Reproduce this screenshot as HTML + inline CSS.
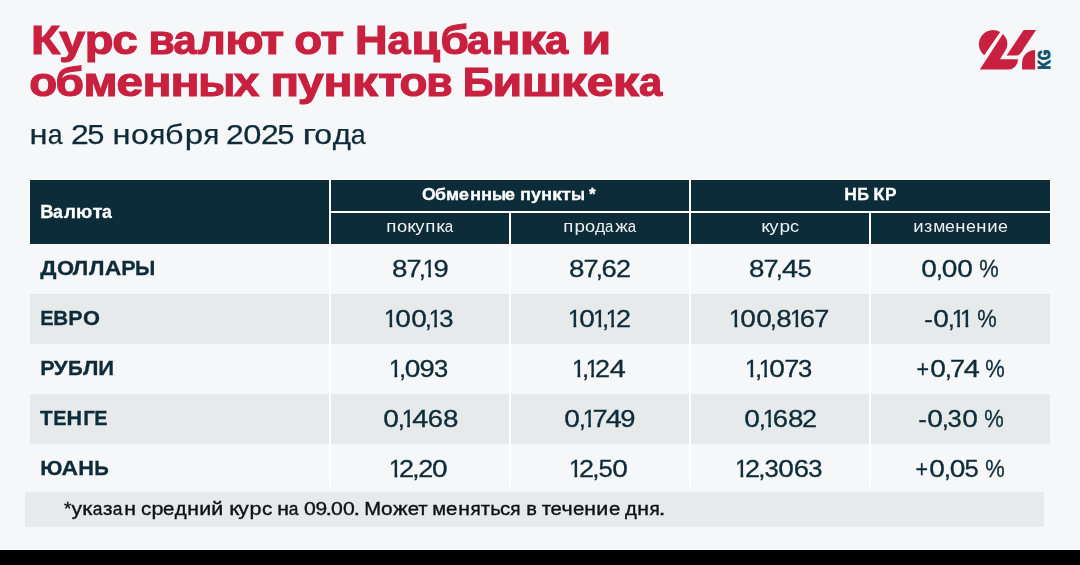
<!DOCTYPE html>
<html><head><meta charset="utf-8"><style>
html,body{margin:0;padding:0;}
body{width:1080px;height:565px;position:relative;overflow:hidden;background:#f6f7f9;font-family:"Liberation Sans",sans-serif;}
.b{position:absolute;}
.t{position:absolute;white-space:nowrap;transform-origin:0 0;will-change:transform;}
.t span{display:inline-block;white-space:pre;overflow:visible;transform-origin:0 0;}
</style></head><body>
<div class="b" style="left:29px;top:179px;width:1022px;height:65px;background:#ffffff"></div>
<div class="b" style="left:30px;top:180px;width:299px;height:64px;background:#0c2c39"></div>
<div class="b" style="left:331px;top:180px;width:358px;height:31px;background:#0c2c39"></div>
<div class="b" style="left:691px;top:180px;width:359px;height:31px;background:#0c2c39"></div>
<div class="b" style="left:331px;top:213px;width:178px;height:31px;background:#0c2c39"></div>
<div class="b" style="left:511px;top:213px;width:178px;height:31px;background:#0c2c39"></div>
<div class="b" style="left:691px;top:213px;width:178px;height:31px;background:#0c2c39"></div>
<div class="b" style="left:871px;top:213px;width:179px;height:31px;background:#0c2c39"></div>
<div class="b" style="left:30px;top:244px;width:1020px;height:50px;background:#f6f7f9"></div>
<div class="b" style="left:30px;top:294px;width:1020px;height:50px;background:#e7eaeb"></div>
<div class="b" style="left:30px;top:344px;width:1020px;height:50px;background:#f6f7f9"></div>
<div class="b" style="left:30px;top:394px;width:1020px;height:50px;background:#e7eaeb"></div>
<div class="b" style="left:30px;top:444px;width:1020px;height:50px;background:#f6f7f9"></div>
<div class="b" style="left:329px;top:244px;width:2px;height:243px;background:#ffffff"></div>
<div class="b" style="left:509px;top:244px;width:2px;height:243px;background:#ffffff"></div>
<div class="b" style="left:689px;top:244px;width:2px;height:243px;background:#ffffff"></div>
<div class="b" style="left:869px;top:244px;width:2px;height:243px;background:#ffffff"></div>
<div class="b" style="left:25px;top:492px;width:1019px;height:35px;background:#e7eaeb"></div>
<div class="b" style="left:0;top:550px;width:1080px;height:15px;background:#000000"></div>
<div class="t" style="left:30.80px;top:16.10px;font-weight:700;font-size:40px;line-height:48px;color:#c8203e;-webkit-text-stroke:1.1px #c8203e"><span style="width:30.000px;text-indent:0.01px;transform:scaleX(1.195)">К</span><span style="width:24.136px;text-indent:-1.43px;transform:scaleX(1.164)">у</span><span style="width:27.920px;text-indent:-0.24px;transform:scaleX(1.178)">р</span><span style="width:24.200px;text-indent:-0.61px;transform:scaleX(1.147)">с</span><span style="width:11.640px"> </span><span style="width:25.040px;text-indent:-0.59px;transform:scaleX(1.069)">в</span><span style="width:24.480px;text-indent:-0.59px;transform:scaleX(1.042)">а</span><span style="width:27.200px;text-indent:-0.16px;transform:scaleX(1.101)">л</span><span style="width:36.720px;text-indent:-0.52px;transform:scaleX(1.114)">ю</span><span style="width:21.520px;text-indent:-1.19px;transform:scaleX(1.203)">т</span><span style="width:11.640px"> </span><span style="width:26.480px;text-indent:-0.62px;transform:scaleX(1.141)">о</span><span style="width:21.520px;text-indent:-1.19px;transform:scaleX(1.203)">т</span><span style="width:11.640px"> </span><span style="width:32.640px;text-indent:0.02px;transform:scaleX(1.128)">Н</span><span style="width:24.480px;text-indent:-0.59px;transform:scaleX(1.042)">а</span><span style="width:28.480px;text-indent:-0.42px;transform:scaleX(1.159)">ц</span><span style="width:27.160px;text-indent:-0.42px;transform:scaleX(1.148)">б</span><span style="width:24.019px;text-indent:-1.03px;transform:scaleX(1.042)">а</span><span style="width:28.080px;text-indent:-0.37px;transform:scaleX(1.199)">н</span><span style="width:26.680px;text-indent:-0.22px;transform:scaleX(1.308)">к</span><span style="width:24.080px;text-indent:-0.97px;transform:scaleX(1.042)">а</span><span style="width:11.640px"> </span><span style="width:28.760px;text-indent:-0.34px;transform:scaleX(1.203)">и</span></div>
<div class="t" style="left:30.00px;top:57.80px;font-weight:700;font-size:40px;line-height:48px;color:#c8203e;-webkit-text-stroke:1.1px #c8203e"><span style="width:26.480px;text-indent:-0.66px;transform:scaleX(1.144)">о</span><span style="width:27.160px;text-indent:-0.46px;transform:scaleX(1.152)">б</span><span style="width:33.000px;text-indent:-0.47px;transform:scaleX(1.153)">м</span><span style="width:25.960px;text-indent:-0.53px;transform:scaleX(1.191)">е</span><span style="width:28.080px;text-indent:-0.41px;transform:scaleX(1.203)">н</span><span style="width:28.080px;text-indent:-0.41px;transform:scaleX(1.203)">н</span><span style="width:35.560px;text-indent:-0.69px;transform:scaleX(1.084)">ы</span><span style="width:24.960px;text-indent:-0.22px;transform:scaleX(1.146)">х</span><span style="width:11.640px"> </span><span style="width:27.560px;text-indent:-0.44px;transform:scaleX(1.184)">п</span><span style="width:25.600px;text-indent:-0.21px;transform:scaleX(1.168)">у</span><span style="width:28.080px;text-indent:-0.41px;transform:scaleX(1.203)">н</span><span style="width:26.680px;text-indent:-0.25px;transform:scaleX(1.312)">к</span><span style="width:22.221px;text-indent:-0.64px;transform:scaleX(1.207)">т</span><span style="width:25.643px;text-indent:-1.39px;transform:scaleX(1.144)">о</span><span style="width:25.040px;text-indent:-0.63px;transform:scaleX(1.073)">в</span><span style="width:11.640px"> </span><span style="width:29.640px;text-indent:-0.18px;transform:scaleX(1.064)">Б</span><span style="width:28.760px;text-indent:-0.38px;transform:scaleX(1.207)">и</span><span style="width:39.480px;text-indent:-0.28px;transform:scaleX(1.208)">ш</span><span style="width:26.680px;text-indent:-0.25px;transform:scaleX(1.312)">к</span><span style="width:25.360px;text-indent:-1.03px;transform:scaleX(1.191)">е</span><span style="width:26.680px;text-indent:-0.25px;transform:scaleX(1.312)">к</span><span style="width:24.080px;text-indent:-1.01px;transform:scaleX(1.045)">а</span></div>
<div class="t" style="left:29.00px;top:117.90px;font-weight:400;font-size:28px;line-height:34px;color:#0d2b38;-webkit-text-stroke:0.25px #0d2b38"><span style="width:19.068px;text-indent:0.44px;transform:scaleX(1.166)">н</span><span style="width:16.492px;text-indent:-0.21px;transform:scaleX(0.955)">а</span><span style="width:7.532px"> </span><span style="width:16.072px;text-indent:-0.98px;transform:scaleX(1.139)">2</span><span style="width:16.072px;text-indent:-0.69px;transform:scaleX(1.102)">5</span><span style="width:7.532px"> </span><span style="width:19.068px;text-indent:0.44px;transform:scaleX(1.166)">н</span><span style="width:17.948px;text-indent:0.02px;transform:scaleX(1.147)">о</span><span style="width:16.694px;text-indent:0.47px;transform:scaleX(1.040)">я</span><span style="width:18.536px;text-indent:-0.01px;transform:scaleX(1.155)">б</span><span style="width:19.264px;text-indent:0.60px;transform:scaleX(1.183)">р</span><span style="width:16.694px;text-indent:0.47px;transform:scaleX(1.040)">я</span><span style="width:7.532px"> </span><span style="width:16.072px;text-indent:-0.98px;transform:scaleX(1.139)">2</span><span style="width:18.654px;text-indent:0.21px;transform:scaleX(1.166)">0</span><span style="width:16.072px;text-indent:-0.98px;transform:scaleX(1.139)">2</span><span style="width:16.072px;text-indent:-0.69px;transform:scaleX(1.102)">5</span><span style="width:7.532px"> </span><span style="width:13.664px;text-indent:0.33px;transform:scaleX(1.345)">г</span><span style="width:17.295px;text-indent:-0.55px;transform:scaleX(1.147)">о</span><span style="width:18.474px;text-indent:-0.13px;transform:scaleX(1.115)">д</span><span style="width:16.492px;text-indent:-0.21px;transform:scaleX(0.955)">а</span></div>
<div class="t" style="left:40.00px;top:200.70px;font-weight:700;font-size:18px;line-height:22px;color:#ffffff;-webkit-text-stroke:0.3px #ffffff"><span style="width:13.410px;text-indent:0.30px;transform:scaleX(1.017)">В</span><span style="width:10.872px;text-indent:-0.04px;transform:scaleX(0.980)">а</span><span style="width:11.988px;text-indent:-0.03px;transform:scaleX(1.046)">л</span><span style="width:16.254px;text-indent:0.08px;transform:scaleX(1.057)">ю</span><span style="width:9.270px;text-indent:-0.52px;transform:scaleX(1.145)">т</span><span style="width:10.872px;text-indent:-0.04px;transform:scaleX(0.980)">а</span></div>
<div class="t" style="left:422.40px;top:185.00px;font-weight:700;font-size:16px;line-height:20px;color:#ffffff;-webkit-text-stroke:0.3px #ffffff"><span style="width:13.472px;text-indent:-0.10px;transform:scaleX(1.100)">О</span><span style="width:10.768px;text-indent:-0.05px;transform:scaleX(1.113)">б</span><span style="width:13.040px;text-indent:-0.02px;transform:scaleX(1.106)">м</span><span style="width:10.288px;text-indent:-0.11px;transform:scaleX(1.150)">е</span><span style="width:11.104px;text-indent:-0.00px;transform:scaleX(1.150)">н</span><span style="width:11.104px;text-indent:-0.00px;transform:scaleX(1.150)">н</span><span style="width:13.744px;text-indent:-0.12px;transform:scaleX(1.024)">ы</span><span style="width:10.288px;text-indent:-0.11px;transform:scaleX(1.150)">е</span><span style="width:4.528px"> </span><span style="width:10.960px;text-indent:-0.01px;transform:scaleX(1.136)">п</span><span style="width:9.824px;text-indent:-0.12px;transform:scaleX(1.124)">у</span><span style="width:11.104px;text-indent:-0.00px;transform:scaleX(1.150)">н</span><span style="width:10.272px;text-indent:0.04px;transform:scaleX(1.242)">к</span><span style="width:8.483px;text-indent:-0.31px;transform:scaleX(1.166)">т</span><span style="width:13.744px;text-indent:-0.12px;transform:scaleX(1.024)">ы</span><span style="width:4.528px"> </span><span style="width:6.944px;text-indent:0.12px;transform:scaleX(1.069)">*</span></div>
<div class="t" style="left:843.78px;top:184.90px;font-weight:700;font-size:16px;line-height:20px;color:#ffffff;-webkit-text-stroke:0.3px #ffffff"><span style="width:13.072px;text-indent:0.21px;transform:scaleX(1.092)">Н</span><span style="width:11.808px;text-indent:0.16px;transform:scaleX(1.024)">Б</span><span style="width:4.528px"> </span><span style="width:11.760px;text-indent:0.21px;transform:scaleX(1.147)">К</span><span style="width:11.264px;text-indent:-0.09px;transform:scaleX(1.078)">Р</span></div>
<div class="t" style="left:385.94px;top:217.00px;font-weight:400;font-size:16px;line-height:20px;color:#eef1f3"><span style="width:10.784px;text-indent:0.29px;transform:scaleX(1.168)">п</span><span style="width:10.176px;text-indent:0.01px;transform:scaleX(1.141)">о</span><span style="width:9.296px;text-indent:0.31px;transform:scaleX(1.222)">к</span><span style="width:8.608px;text-indent:-0.58px;transform:scaleX(1.147)">у</span><span style="width:10.784px;text-indent:0.29px;transform:scaleX(1.168)">п</span><span style="width:9.296px;text-indent:0.31px;transform:scaleX(1.222)">к</span><span style="width:9.168px;text-indent:-0.29px;transform:scaleX(0.940)">а</span></div>
<div class="t" style="left:562.99px;top:217.00px;font-weight:400;font-size:16px;line-height:20px;color:#eef1f3"><span style="width:10.784px;text-indent:0.31px;transform:scaleX(1.161)">п</span><span style="width:10.976px;text-indent:0.40px;transform:scaleX(1.171)">р</span><span style="width:10.176px;text-indent:0.03px;transform:scaleX(1.134)">о</span><span style="width:10.371px;text-indent:-0.12px;transform:scaleX(1.102)">д</span><span style="width:9.328px;text-indent:-0.09px;transform:scaleX(0.935)">а</span><span style="width:13.216px;text-indent:0.26px;transform:scaleX(1.177)">ж</span><span style="width:9.168px;text-indent:-0.26px;transform:scaleX(0.935)">а</span></div>
<div class="t" style="left:761.06px;top:217.00px;font-weight:400;font-size:16px;line-height:20px;color:#eef1f3"><span style="width:9.296px;text-indent:0.28px;transform:scaleX(1.233)">к</span><span style="width:8.608px;text-indent:-0.61px;transform:scaleX(1.157)">у</span><span style="width:10.976px;text-indent:0.33px;transform:scaleX(1.188)">р</span><span style="width:9.008px;text-indent:-0.05px;transform:scaleX(1.132)">с</span></div>
<div class="t" style="left:913.27px;top:217.00px;font-weight:400;font-size:16px;line-height:20px;color:#eef1f3"><span style="width:11.008px;text-indent:0.28px;transform:scaleX(1.158)">и</span><span style="width:8.544px;text-indent:-0.00px;transform:scaleX(1.131)">з</span><span style="width:12.640px;text-indent:0.26px;transform:scaleX(1.097)">м</span><span style="width:9.888px;text-indent:-0.02px;transform:scaleX(1.112)">е</span><span style="width:10.800px;text-indent:0.28px;transform:scaleX(1.148)">н</span><span style="width:9.888px;text-indent:-0.02px;transform:scaleX(1.112)">е</span><span style="width:10.800px;text-indent:0.28px;transform:scaleX(1.148)">н</span><span style="width:11.008px;text-indent:0.28px;transform:scaleX(1.158)">и</span><span style="width:9.888px;text-indent:-0.02px;transform:scaleX(1.112)">е</span></div>
<div class="t" style="left:40.00px;top:255.90px;font-weight:700;font-size:20px;line-height:24px;color:#0d2b38;-webkit-text-stroke:0.3px #0d2b38"><span style="width:16.620px;text-indent:0.21px;transform:scaleX(1.138)">Д</span><span style="width:16.840px;text-indent:-0.11px;transform:scaleX(1.099)">О</span><span style="width:15.580px;text-indent:-0.17px;transform:scaleX(1.102)">Л</span><span style="width:15.883px;text-indent:0.11px;transform:scaleX(1.102)">Л</span><span style="width:15.980px;text-indent:-0.23px;transform:scaleX(1.146)">А</span><span style="width:14.480px;text-indent:0.25px;transform:scaleX(1.079)">Р</span><span style="width:20.360px;text-indent:-0.04px;transform:scaleX(1.034)">Ы</span></div>
<div class="t" style="left:391.87px;top:253.80px;font-weight:400;font-size:24px;line-height:29px;color:#0d2b38;-webkit-text-stroke:0.3px #0d2b38"><span style="width:15.312px;text-indent:-0.05px;transform:scaleX(1.156)">8</span><span style="width:14.136px;text-indent:-0.55px;transform:scaleX(1.131)">7</span><span style="width:3.822px;text-indent:-2.14px;transform:scaleX(1.078)">,</span><span style="width:8.370px;text-indent:-2.39px;transform:scaleX(0.975);clip-path:polygon(-30px -5px,40px -5px,40px 20.91px,6.16px 20.91px,6.16px 40px,3.24px 40px,3.24px 20.91px,-30px 20.91px)">1</span><span style="width:14.616px;text-indent:-0.48px;transform:scaleX(1.140)">9</span></div>
<div class="t" style="left:569.37px;top:253.80px;font-weight:400;font-size:24px;line-height:29px;color:#0d2b38;-webkit-text-stroke:0.3px #0d2b38"><span style="width:15.312px;text-indent:-0.05px;transform:scaleX(1.156)">8</span><span style="width:14.136px;text-indent:-0.55px;transform:scaleX(1.131)">7</span><span style="width:3.822px;text-indent:-2.14px;transform:scaleX(1.078)">,</span><span style="width:14.349px;text-indent:-0.37px;transform:scaleX(1.141)">6</span><span style="width:13.632px;text-indent:-0.81px;transform:scaleX(1.124)">2</span></div>
<div class="t" style="left:748.82px;top:253.80px;font-weight:400;font-size:24px;line-height:29px;color:#0d2b38;-webkit-text-stroke:0.3px #0d2b38"><span style="width:15.312px;text-indent:-0.05px;transform:scaleX(1.156)">8</span><span style="width:14.136px;text-indent:-0.55px;transform:scaleX(1.131)">7</span><span style="width:3.822px;text-indent:-2.14px;transform:scaleX(1.078)">,</span><span style="width:15.561px;text-indent:0.00px;transform:scaleX(1.204)">4</span><span style="width:13.532px;text-indent:-0.52px;transform:scaleX(1.066)">5</span></div>
<div class="t" style="left:921.30px;top:253.80px;font-weight:400;font-size:24px;line-height:29px;color:#0d2b38;-webkit-text-stroke:0.3px #0d2b38"><span style="width:15.888px;text-indent:0.12px;transform:scaleX(1.169)">0</span><span style="width:4.821px;text-indent:-1.21px;transform:scaleX(1.078)">,</span><span style="width:15.621px;text-indent:-0.11px;transform:scaleX(1.169)">0</span><span style="width:15.888px;text-indent:0.12px;transform:scaleX(1.169)">0</span><span style="width:6.288px"> </span><span style="width:19.896px;text-indent:0.24px;transform:scaleX(0.912)">%</span></div>
<div class="t" style="left:40.00px;top:305.90px;font-weight:700;font-size:20px;line-height:24px;color:#0d2b38;-webkit-text-stroke:0.3px #0d2b38"><span style="width:13.460px;text-indent:0.25px;transform:scaleX(0.996)">Е</span><span style="width:14.900px;text-indent:0.26px;transform:scaleX(1.027)">В</span><span style="width:14.480px;text-indent:0.30px;transform:scaleX(1.071)">Р</span><span style="width:16.840px;text-indent:-0.06px;transform:scaleX(1.091)">О</span></div>
<div class="t" style="left:386.42px;top:303.80px;font-weight:400;font-size:24px;line-height:29px;color:#0d2b38;-webkit-text-stroke:0.3px #0d2b38"><span style="width:8.664px;text-indent:-2.09px;transform:scaleX(0.975);clip-path:polygon(-30px -5px,40px -5px,40px 20.91px,6.47px 20.91px,6.47px 40px,3.54px 40px,3.54px 20.91px,-30px 20.91px)">1</span><span style="width:15.888px;text-indent:0.12px;transform:scaleX(1.169)">0</span><span style="width:15.888px;text-indent:0.12px;transform:scaleX(1.169)">0</span><span style="width:4.821px;text-indent:-1.21px;transform:scaleX(1.078)">,</span><span style="width:8.370px;text-indent:-2.39px;transform:scaleX(0.975);clip-path:polygon(-30px -5px,40px -5px,40px 20.91px,6.16px 20.91px,6.16px 40px,3.24px 40px,3.24px 20.91px,-30px 20.91px)">1</span><span style="width:13.536px;text-indent:-0.70px;transform:scaleX(1.066)">3</span></div>
<div class="t" style="left:569.85px;top:303.80px;font-weight:400;font-size:24px;line-height:29px;color:#0d2b38;-webkit-text-stroke:0.3px #0d2b38"><span style="width:8.664px;text-indent:-2.09px;transform:scaleX(0.975);clip-path:polygon(-30px -5px,40px -5px,40px 20.91px,6.47px 20.91px,6.47px 40px,3.54px 40px,3.54px 20.91px,-30px 20.91px)">1</span><span style="width:15.888px;text-indent:0.12px;transform:scaleX(1.169)">0</span><span style="width:8.664px;text-indent:-2.09px;transform:scaleX(0.975);clip-path:polygon(-30px -5px,40px -5px,40px 20.91px,6.47px 20.91px,6.47px 40px,3.54px 40px,3.54px 20.91px,-30px 20.91px)">1</span><span style="width:5.088px;text-indent:-0.96px;transform:scaleX(1.078)">,</span><span style="width:8.370px;text-indent:-2.39px;transform:scaleX(0.975);clip-path:polygon(-30px -5px,40px -5px,40px 20.91px,6.16px 20.91px,6.16px 40px,3.24px 40px,3.24px 20.91px,-30px 20.91px)">1</span><span style="width:13.632px;text-indent:-0.81px;transform:scaleX(1.124)">2</span></div>
<div class="t" style="left:730.98px;top:303.80px;font-weight:400;font-size:24px;line-height:29px;color:#0d2b38;-webkit-text-stroke:0.3px #0d2b38"><span style="width:8.664px;text-indent:-2.09px;transform:scaleX(0.975);clip-path:polygon(-30px -5px,40px -5px,40px 20.91px,6.47px 20.91px,6.47px 40px,3.54px 40px,3.54px 20.91px,-30px 20.91px)">1</span><span style="width:15.888px;text-indent:0.12px;transform:scaleX(1.169)">0</span><span style="width:15.888px;text-indent:0.12px;transform:scaleX(1.169)">0</span><span style="width:4.821px;text-indent:-1.21px;transform:scaleX(1.078)">,</span><span style="width:15.552px;text-indent:0.15px;transform:scaleX(1.156)">8</span><span style="width:8.664px;text-indent:-2.09px;transform:scaleX(0.975);clip-path:polygon(-30px -5px,40px -5px,40px 20.91px,6.47px 20.91px,6.47px 40px,3.54px 40px,3.54px 20.91px,-30px 20.91px)">1</span><span style="width:14.616px;text-indent:-0.13px;transform:scaleX(1.141)">6</span><span style="width:13.950px;text-indent:-0.72px;transform:scaleX(1.131)">7</span></div>
<div class="t" style="left:923.86px;top:303.80px;font-weight:400;font-size:24px;line-height:29px;color:#0d2b38;-webkit-text-stroke:0.3px #0d2b38"><span style="width:9.168px;text-indent:0.27px;transform:scaleX(1.075)">-</span><span style="width:16.074px;text-indent:0.28px;transform:scaleX(1.169)">0</span><span style="width:4.821px;text-indent:-1.21px;transform:scaleX(1.078)">,</span><span style="width:8.370px;text-indent:-2.39px;transform:scaleX(0.975);clip-path:polygon(-30px -5px,40px -5px,40px 20.91px,6.16px 20.91px,6.16px 40px,3.24px 40px,3.24px 20.91px,-30px 20.91px)">1</span><span style="width:8.664px;text-indent:-2.09px;transform:scaleX(0.975);clip-path:polygon(-30px -5px,40px -5px,40px 20.91px,6.47px 20.91px,6.47px 40px,3.54px 40px,3.54px 20.91px,-30px 20.91px)">1</span><span style="width:6.288px"> </span><span style="width:19.896px;text-indent:0.24px;transform:scaleX(0.912)">%</span></div>
<div class="t" style="left:40.00px;top:355.90px;font-weight:700;font-size:20px;line-height:24px;color:#0d2b38;-webkit-text-stroke:0.3px #0d2b38"><span style="width:14.480px;text-indent:0.26px;transform:scaleX(1.077)">Р</span><span style="width:13.859px;text-indent:-0.34px;transform:scaleX(1.113)">У</span><span style="width:14.460px;text-indent:-0.08px;transform:scaleX(1.023)">Б</span><span style="width:15.644px;text-indent:-0.10px;transform:scaleX(1.099)">Л</span><span style="width:16.420px;text-indent:0.29px;transform:scaleX(1.099)">И</span></div>
<div class="t" style="left:391.36px;top:353.80px;font-weight:400;font-size:24px;line-height:29px;color:#0d2b38;-webkit-text-stroke:0.3px #0d2b38"><span style="width:8.664px;text-indent:-2.09px;transform:scaleX(0.975);clip-path:polygon(-30px -5px,40px -5px,40px 20.91px,6.47px 20.91px,6.47px 40px,3.54px 40px,3.54px 20.91px,-30px 20.91px)">1</span><span style="width:5.088px;text-indent:-0.96px;transform:scaleX(1.078)">,</span><span style="width:15.621px;text-indent:-0.11px;transform:scaleX(1.169)">0</span><span style="width:14.616px;text-indent:-0.48px;transform:scaleX(1.140)">9</span><span style="width:13.296px;text-indent:-0.93px;transform:scaleX(1.066)">3</span></div>
<div class="t" style="left:574.46px;top:353.80px;font-weight:400;font-size:24px;line-height:29px;color:#0d2b38;-webkit-text-stroke:0.3px #0d2b38"><span style="width:8.664px;text-indent:-2.09px;transform:scaleX(0.975);clip-path:polygon(-30px -5px,40px -5px,40px 20.91px,6.47px 20.91px,6.47px 40px,3.54px 40px,3.54px 20.91px,-30px 20.91px)">1</span><span style="width:5.088px;text-indent:-0.96px;transform:scaleX(1.078)">,</span><span style="width:8.370px;text-indent:-2.39px;transform:scaleX(0.975);clip-path:polygon(-30px -5px,40px -5px,40px 20.91px,6.16px 20.91px,6.16px 40px,3.24px 40px,3.24px 20.91px,-30px 20.91px)">1</span><span style="width:13.632px;text-indent:-0.81px;transform:scaleX(1.124)">2</span><span style="width:15.321px;text-indent:-0.20px;transform:scaleX(1.204)">4</span></div>
<div class="t" style="left:747.36px;top:353.80px;font-weight:400;font-size:24px;line-height:29px;color:#0d2b38;-webkit-text-stroke:0.3px #0d2b38"><span style="width:8.664px;text-indent:-2.09px;transform:scaleX(0.975);clip-path:polygon(-30px -5px,40px -5px,40px 20.91px,6.47px 20.91px,6.47px 40px,3.54px 40px,3.54px 20.91px,-30px 20.91px)">1</span><span style="width:5.088px;text-indent:-0.96px;transform:scaleX(1.078)">,</span><span style="width:8.370px;text-indent:-2.39px;transform:scaleX(0.975);clip-path:polygon(-30px -5px,40px -5px,40px 20.91px,6.16px 20.91px,6.16px 40px,3.24px 40px,3.24px 20.91px,-30px 20.91px)">1</span><span style="width:15.888px;text-indent:0.12px;transform:scaleX(1.169)">0</span><span style="width:13.950px;text-indent:-0.72px;transform:scaleX(1.131)">7</span><span style="width:13.323px;text-indent:-0.90px;transform:scaleX(1.066)">3</span></div>
<div class="t" style="left:915.99px;top:353.80px;font-weight:400;font-size:24px;line-height:29px;color:#0d2b38;-webkit-text-stroke:0.3px #0d2b38"><span style="width:13.800px;text-indent:0.70px;transform:scaleX(0.895)">+</span><span style="width:16.074px;text-indent:0.28px;transform:scaleX(1.169)">0</span><span style="width:4.821px;text-indent:-1.21px;transform:scaleX(1.078)">,</span><span style="width:13.842px;text-indent:-0.81px;transform:scaleX(1.131)">7</span><span style="width:14.304px;text-indent:-1.04px;transform:scaleX(1.204)">4</span><span style="width:6.288px"> </span><span style="width:19.896px;text-indent:0.24px;transform:scaleX(0.912)">%</span></div>
<div class="t" style="left:40.00px;top:405.90px;font-weight:700;font-size:20px;line-height:24px;color:#0d2b38;-webkit-text-stroke:0.3px #0d2b38"><span style="width:12.740px;text-indent:0.04px;transform:scaleX(1.034)">Т</span><span style="width:13.460px;text-indent:0.30px;transform:scaleX(0.989)">Е</span><span style="width:16.340px;text-indent:0.37px;transform:scaleX(1.077)">Н</span><span style="width:11.860px;text-indent:0.33px;transform:scaleX(1.031)">Г</span><span style="width:13.460px;text-indent:0.30px;transform:scaleX(0.989)">Е</span></div>
<div class="t" style="left:382.56px;top:403.80px;font-weight:400;font-size:24px;line-height:29px;color:#0d2b38;-webkit-text-stroke:0.3px #0d2b38"><span style="width:15.888px;text-indent:0.12px;transform:scaleX(1.169)">0</span><span style="width:4.821px;text-indent:-1.21px;transform:scaleX(1.078)">,</span><span style="width:8.370px;text-indent:-2.39px;transform:scaleX(0.975);clip-path:polygon(-30px -5px,40px -5px,40px 20.91px,6.16px 20.91px,6.16px 40px,3.24px 40px,3.24px 20.91px,-30px 20.91px)">1</span><span style="width:15.864px;text-indent:0.25px;transform:scaleX(1.204)">4</span><span style="width:14.616px;text-indent:-0.13px;transform:scaleX(1.141)">6</span><span style="width:15.312px;text-indent:-0.05px;transform:scaleX(1.156)">8</span></div>
<div class="t" style="left:564.03px;top:403.80px;font-weight:400;font-size:24px;line-height:29px;color:#0d2b38;-webkit-text-stroke:0.3px #0d2b38"><span style="width:15.888px;text-indent:0.12px;transform:scaleX(1.169)">0</span><span style="width:4.821px;text-indent:-1.21px;transform:scaleX(1.078)">,</span><span style="width:8.370px;text-indent:-2.39px;transform:scaleX(0.975);clip-path:polygon(-30px -5px,40px -5px,40px 20.91px,6.16px 20.91px,6.16px 40px,3.24px 40px,3.24px 20.91px,-30px 20.91px)">1</span><span style="width:14.136px;text-indent:-0.55px;transform:scaleX(1.131)">7</span><span style="width:14.304px;text-indent:-1.04px;transform:scaleX(1.204)">4</span><span style="width:14.430px;text-indent:-0.64px;transform:scaleX(1.140)">9</span></div>
<div class="t" style="left:743.68px;top:403.80px;font-weight:400;font-size:24px;line-height:29px;color:#0d2b38;-webkit-text-stroke:0.3px #0d2b38"><span style="width:15.888px;text-indent:0.12px;transform:scaleX(1.169)">0</span><span style="width:4.821px;text-indent:-1.21px;transform:scaleX(1.078)">,</span><span style="width:8.370px;text-indent:-2.39px;transform:scaleX(0.975);clip-path:polygon(-30px -5px,40px -5px,40px 20.91px,6.16px 20.91px,6.16px 40px,3.24px 40px,3.24px 20.91px,-30px 20.91px)">1</span><span style="width:14.616px;text-indent:-0.13px;transform:scaleX(1.141)">6</span><span style="width:15.312px;text-indent:-0.05px;transform:scaleX(1.156)">8</span><span style="width:13.632px;text-indent:-0.81px;transform:scaleX(1.124)">2</span></div>
<div class="t" style="left:917.54px;top:403.80px;font-weight:400;font-size:24px;line-height:29px;color:#0d2b38;-webkit-text-stroke:0.3px #0d2b38"><span style="width:9.168px;text-indent:0.27px;transform:scaleX(1.075)">-</span><span style="width:16.074px;text-indent:0.28px;transform:scaleX(1.169)">0</span><span style="width:4.821px;text-indent:-1.21px;transform:scaleX(1.078)">,</span><span style="width:13.776px;text-indent:-0.48px;transform:scaleX(1.066)">3</span><span style="width:15.888px;text-indent:0.12px;transform:scaleX(1.169)">0</span><span style="width:6.288px"> </span><span style="width:19.896px;text-indent:0.24px;transform:scaleX(0.912)">%</span></div>
<div class="t" style="left:40.00px;top:455.90px;font-weight:700;font-size:20px;line-height:24px;color:#0d2b38;-webkit-text-stroke:0.3px #0d2b38"><span style="width:22.280px;text-indent:0.26px;transform:scaleX(1.074)">Ю</span><span style="width:15.780px;text-indent:-0.39px;transform:scaleX(1.143)">А</span><span style="width:16.340px;text-indent:0.28px;transform:scaleX(1.089)">Н</span><span style="width:14.420px;text-indent:0.21px;transform:scaleX(1.010)">Ь</span></div>
<div class="t" style="left:391.33px;top:453.80px;font-weight:400;font-size:24px;line-height:29px;color:#0d2b38;-webkit-text-stroke:0.3px #0d2b38"><span style="width:8.664px;text-indent:-2.09px;transform:scaleX(0.975);clip-path:polygon(-30px -5px,40px -5px,40px 20.91px,6.47px 20.91px,6.47px 40px,3.54px 40px,3.54px 20.91px,-30px 20.91px)">1</span><span style="width:13.632px;text-indent:-0.81px;transform:scaleX(1.124)">2</span><span style="width:5.328px;text-indent:-0.74px;transform:scaleX(1.078)">,</span><span style="width:13.872px;text-indent:-0.60px;transform:scaleX(1.124)">2</span><span style="width:15.836px;text-indent:0.08px;transform:scaleX(1.169)">0</span></div>
<div class="t" style="left:571.45px;top:453.80px;font-weight:400;font-size:24px;line-height:29px;color:#0d2b38;-webkit-text-stroke:0.3px #0d2b38"><span style="width:8.664px;text-indent:-2.09px;transform:scaleX(0.975);clip-path:polygon(-30px -5px,40px -5px,40px 20.91px,6.47px 20.91px,6.47px 40px,3.54px 40px,3.54px 20.91px,-30px 20.91px)">1</span><span style="width:13.632px;text-indent:-0.81px;transform:scaleX(1.124)">2</span><span style="width:5.328px;text-indent:-0.74px;transform:scaleX(1.078)">,</span><span style="width:13.584px;text-indent:-0.47px;transform:scaleX(1.066)">5</span><span style="width:15.888px;text-indent:0.12px;transform:scaleX(1.169)">0</span></div>
<div class="t" style="left:737.28px;top:453.80px;font-weight:400;font-size:24px;line-height:29px;color:#0d2b38;-webkit-text-stroke:0.3px #0d2b38"><span style="width:8.664px;text-indent:-2.09px;transform:scaleX(0.975);clip-path:polygon(-30px -5px,40px -5px,40px 20.91px,6.47px 20.91px,6.47px 40px,3.54px 40px,3.54px 20.91px,-30px 20.91px)">1</span><span style="width:13.632px;text-indent:-0.81px;transform:scaleX(1.124)">2</span><span style="width:5.328px;text-indent:-0.74px;transform:scaleX(1.078)">,</span><span style="width:13.776px;text-indent:-0.48px;transform:scaleX(1.066)">3</span><span style="width:15.888px;text-indent:0.12px;transform:scaleX(1.169)">0</span><span style="width:14.616px;text-indent:-0.13px;transform:scaleX(1.141)">6</span><span style="width:13.536px;text-indent:-0.70px;transform:scaleX(1.066)">3</span></div>
<div class="t" style="left:915.46px;top:453.80px;font-weight:400;font-size:24px;line-height:29px;color:#0d2b38;-webkit-text-stroke:0.3px #0d2b38"><span style="width:13.800px;text-indent:0.70px;transform:scaleX(0.895)">+</span><span style="width:16.074px;text-indent:0.28px;transform:scaleX(1.169)">0</span><span style="width:4.821px;text-indent:-1.21px;transform:scaleX(1.078)">,</span><span style="width:15.621px;text-indent:-0.11px;transform:scaleX(1.169)">0</span><span style="width:13.584px;text-indent:-0.47px;transform:scaleX(1.066)">5</span><span style="width:6.288px"> </span><span style="width:19.896px;text-indent:0.24px;transform:scaleX(0.912)">%</span></div>
<div class="t" style="left:63.80px;top:498.00px;font-weight:400;font-size:18px;line-height:22px;color:#111111;-webkit-text-stroke:0.35px #111111"><span style="width:7.200px;text-indent:-0.07px;transform:scaleX(1.048)">*</span><span style="width:11.026px;text-indent:0.39px;transform:scaleX(1.164)">у</span><span style="width:10.764px;text-indent:0.27px;transform:scaleX(1.267)">к</span><span style="width:10.422px;text-indent:-0.37px;transform:scaleX(0.965)">а</span><span style="width:9.792px;text-indent:0.03px;transform:scaleX(1.158)">з</span><span style="width:10.602px;text-indent:-0.19px;transform:scaleX(0.965)">а</span><span style="width:12.258px;text-indent:0.23px;transform:scaleX(1.178)">н</span><span style="width:4.842px"> </span><span style="width:10.278px;text-indent:-0.06px;transform:scaleX(1.147)">с</span><span style="width:12.384px;text-indent:0.33px;transform:scaleX(1.195)">р</span><span style="width:11.304px;text-indent:-0.07px;transform:scaleX(1.130)">е</span><span style="width:11.788px;text-indent:-0.21px;transform:scaleX(1.126)">д</span><span style="width:12.258px;text-indent:0.23px;transform:scaleX(1.178)">н</span><span style="width:12.492px;text-indent:0.23px;transform:scaleX(1.188)">и</span><span style="width:12.492px;text-indent:0.23px;transform:scaleX(1.188)">й</span><span style="width:4.842px"> </span><span style="width:10.764px;text-indent:0.27px;transform:scaleX(1.267)">к</span><span style="width:9.918px;text-indent:-0.56px;transform:scaleX(1.164)">у</span><span style="width:12.384px;text-indent:0.33px;transform:scaleX(1.195)">р</span><span style="width:10.278px;text-indent:-0.06px;transform:scaleX(1.147)">с</span><span style="width:4.842px"> </span><span style="width:12.258px;text-indent:0.23px;transform:scaleX(1.178)">н</span><span style="width:10.602px;text-indent:-0.19px;transform:scaleX(0.965)">а</span><span style="width:4.842px"> </span><span style="width:12.006px;text-indent:0.09px;transform:scaleX(1.178)">0</span><span style="width:11.106px;text-indent:-0.38px;transform:scaleX(1.163)">9</span><span style="width:3.876px;text-indent:-1.11px;transform:scaleX(1.321)">.</span><span style="width:11.795px;text-indent:-0.09px;transform:scaleX(1.178)">0</span><span style="width:12.006px;text-indent:0.09px;transform:scaleX(1.178)">0</span><span style="width:3.876px;text-indent:-1.11px;transform:scaleX(1.321)">.</span><span style="width:4.842px"> </span><span style="width:17.334px;text-indent:0.23px;transform:scaleX(1.122)">М</span><span style="width:11.538px;text-indent:-0.04px;transform:scaleX(1.159)">о</span><span style="width:14.998px;text-indent:0.05px;transform:scaleX(1.212)">ж</span><span style="width:11.020px;text-indent:-0.33px;transform:scaleX(1.130)">е</span><span style="width:8.485px;text-indent:-0.58px;transform:scaleX(1.141)">т</span><span style="width:4.842px"> </span><span style="width:14.364px;text-indent:0.21px;transform:scaleX(1.121)">м</span><span style="width:11.304px;text-indent:-0.07px;transform:scaleX(1.130)">е</span><span style="width:12.258px;text-indent:0.23px;transform:scaleX(1.178)">н</span><span style="width:11.016px;text-indent:0.52px;transform:scaleX(1.051)">я</span><span style="width:8.874px;text-indent:-0.24px;transform:scaleX(1.141)">т</span><span style="width:10.350px;text-indent:0.22px;transform:scaleX(1.112)">ь</span><span style="width:10.278px;text-indent:-0.06px;transform:scaleX(1.147)">с</span><span style="width:10.717px;text-indent:0.24px;transform:scaleX(1.051)">я</span><span style="width:4.842px"> </span><span style="width:11.052px;text-indent:0.22px;transform:scaleX(1.117)">в</span><span style="width:4.842px"> </span><span style="width:8.874px;text-indent:-0.24px;transform:scaleX(1.141)">т</span><span style="width:10.884px;text-indent:-0.45px;transform:scaleX(1.130)">е</span><span style="width:10.962px;text-indent:-0.37px;transform:scaleX(1.189)">ч</span><span style="width:11.304px;text-indent:-0.07px;transform:scaleX(1.130)">е</span><span style="width:12.258px;text-indent:0.23px;transform:scaleX(1.178)">н</span><span style="width:12.492px;text-indent:0.23px;transform:scaleX(1.188)">и</span><span style="width:11.304px;text-indent:-0.07px;transform:scaleX(1.130)">е</span><span style="width:4.842px"> </span><span style="width:11.952px;text-indent:-0.07px;transform:scaleX(1.126)">д</span><span style="width:12.258px;text-indent:0.23px;transform:scaleX(1.178)">н</span><span style="width:11.016px;text-indent:0.52px;transform:scaleX(1.051)">я</span><span style="width:4.086px;text-indent:-0.96px;transform:scaleX(1.321)">.</span></div>
<svg viewBox="0 0 904 565" style="position:absolute;left:975px;top:25px;width:80px;height:50px">
<g fill="#c8203e">
<path d="M284.5,78.7 A160,160 0 0 0 104.4,342.2 Z"/>
<path d="M314.4,101.2 A160,160 0 0 1 356.3,266.0 L283.0,387 L486,387 A106,117 0 0 1 380,504 L54.8,504 Z"/>
<path d="M550,57 L690,57 L551,265 C530,310 500,346 456,346 L357,346 Z"/>
<path d="M532,504 L679,504 L679,283 A147,147 0 0 0 532,430 Z"/>
</g>
<text transform="translate(842,503) rotate(-90)" font-family="Liberation Sans" font-weight="700" font-size="176" fill="#0f506b" textLength="222" lengthAdjust="spacingAndGlyphs" stroke="#0f506b" stroke-width="10">KG</text>
</svg>
</body></html>
